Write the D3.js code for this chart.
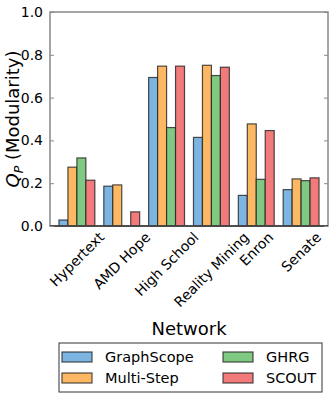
<!DOCTYPE html>
<html><head><meta charset="utf-8">
<script src="https://cdn.jsdelivr.net/npm/d3@7/dist/d3.min.js"></script>
<style>body{margin:0;background:#fff}svg{display:block;font-family:"DejaVu Sans",sans-serif}</style>
</head><body><svg id="c" width="332" height="397"></svg>
<script>
const networks = ["Hypertext","AMD Hope","High School","Reality Mining","Enron","Senate"];
const methods = ["GraphScope","Multi-Step","GHRG","SCOUT"];
const graphScope = [0.028, 0.186, 0.694, 0.414, 0.143, 0.170];
const multiStep  = [0.275, 0.192, 0.747, 0.751, 0.477, 0.220];
const ghrg       = [0.318, 0,     0.460, 0.703, 0.218, 0.212];
const scout      = [0.214, 0.066, 0.747, 0.742, 0.446, 0.225];
const yTicks = [0.0, 0.2, 0.4, 0.6, 0.8, 1.0];
const colors = ["#7cb4e2","#fdb863","#80c983","#f27a7a"];

const series = [graphScope, multiStep, ghrg, scout];
const L = 50, R = 328, T = 12, B = 226;
const svg = d3.select("#c");
const x = d3.scaleLinear().domain([0, networks.length + 0.2]).range([L, R]);
const y = d3.scaleLinear().domain([0, 1]).range([B, T]);
const bw = 0.2;

// bars
series.forEach((vals, j) => {
  svg.append("g").selectAll("rect").data(vals.map((v,i)=>({v,i})).filter(d=>d.v>0)).join("rect")
    .attr("x", d => x(d.i + 0.2 + j*bw))
    .attr("width", x(bw) - x(0))
    .attr("y", d => y(d.v))
    .attr("height", d => y(0) - y(d.v))
    .attr("fill", colors[j])
    .attr("stroke", "#222").attr("stroke-opacity", 0.8).attr("stroke-width", 1.2);
});

// spines
svg.append("rect").attr("x", L).attr("y", T).attr("width", R-L).attr("height", B-T)
  .attr("fill","none").attr("stroke","#888").attr("stroke-width",1.5);
svg.append("line").attr("x1",L).attr("x2",R).attr("y1",B).attr("y2",B).attr("stroke","#333").attr("stroke-width",1.5);

// y axis
const yAxis = d3.axisLeft(y).tickValues(yTicks).tickFormat(d3.format(".1f")).tickSize(-4).tickPadding(7);
const gy = svg.append("g").attr("transform",`translate(${L},0)`).call(yAxis);
gy.select(".domain").remove();
gy.selectAll("line").attr("stroke","#888");
gy.selectAll("text").attr("font-size",14).attr("fill","#000").attr("font-family","DejaVu Sans");
const yAxisR = d3.axisRight(y).tickValues(yTicks).tickFormat("").tickSize(-4);
const gyr = svg.append("g").attr("transform",`translate(${R},0)`).call(yAxisR);
gyr.select(".domain").remove();
gyr.selectAll("line").attr("stroke","#888");

// x tick labels
const xt = svg.append("g");
networks.forEach((n,i) => {
  const t = xt.append("text").text(n).attr("font-size",14).attr("text-anchor","middle")
    .attr("dominant-baseline","central");
  const w = t.node().getComputedTextLength();
  const half = (w + 13) * Math.SQRT1_2 / 2;
  const cx = x(i + 0.6), cy = B + 4 + half;
  t.attr("transform",`translate(${cx},${cy}) rotate(-45)`);
});

// axis labels
svg.append("text").text("Network").attr("x",(L+R)/2).attr("y",335).attr("text-anchor","middle").attr("font-size",18);
const yl = svg.append("text").attr("transform",`translate(19,${(T+B)/2}) rotate(-90)`).attr("text-anchor","middle").attr("font-size",18);
yl.append("tspan").text("Q").attr("font-style","italic");
yl.append("tspan").text("P").attr("font-style","italic").attr("font-size",12.5).attr("dy",4);
yl.append("tspan").text("\u00a0(Modularity)").attr("dy",-4);

// legend
const lg = svg.append("g");
lg.append("rect").attr("x",59).attr("y",343).attr("width",263).attr("height",49)
  .attr("fill","#fff").attr("stroke","#333").attr("stroke-width",1);
methods.forEach((m,k) => {
  const col = Math.floor(k/2), row = k%2;
  const px = col ? 223 : 62, py = row ? 373 : 352;
  lg.append("rect").attr("x",px).attr("y",py).attr("width",30).attr("height",10)
    .attr("fill",colors[k]).attr("stroke","#222").attr("stroke-opacity",0.8).attr("stroke-width",1.2);
  lg.append("text").text(m).attr("x",px+43).attr("y",py+5).attr("dominant-baseline","central").attr("font-size",14.5);
});
</script></body></html>
